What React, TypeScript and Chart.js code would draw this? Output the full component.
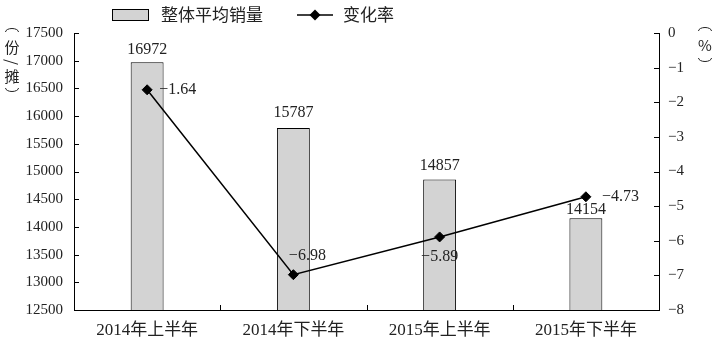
import React, { useEffect, useRef } from "react";
import { Chart, registerables } from "chart.js";

Chart.register(...registerables);

const categories = ["2014年上半年", "2014年下半年", "2015年上半年", "2015年下半年"];
const avgSales = [16972, 15787, 14857, 14154];
const changeRate = [-1.64, -6.98, -5.89, -4.73];
const leftTicks = { min: 12500, max: 17500, step: 500 };
const rightTicks = { min: -8, max: 0, step: 1 };
const seriesNames = ["整体平均销量", "变化率"];
const leftTitleChars = ["份", "/", "摊"];
const rightTitleChars = ["%"];

const SERIF = "'Liberation Serif', 'Noto Sans CJK SC', serif";
const CJK = "'Noto Sans CJK SC', sans-serif";
const TEXT = "#222";
const BAR_FILL = "#d3d3d3";

const fmtNum = (v: number) => (v < 0 ? "\u2212" + Math.abs(v) : String(v));

const decorPlugin = {
  id: "decor",
  afterDraw(chart: any) {
    const ctx = chart.ctx as CanvasRenderingContext2D;
    const area = chart.chartArea;
    const x = chart.scales.x;
    const y = chart.scales.y;
    const y1 = chart.scales.y1;
    ctx.save();
    ctx.strokeStyle = "#000";
    ctx.lineWidth = 1;
    // inward tick marks
    ctx.beginPath();
    y.ticks.forEach((_t: any, i: number) => {
      const py = Math.round(y.getPixelForTick(i)) + 0.5;
      ctx.moveTo(area.left, py);
      ctx.lineTo(area.left + 5, py);
    });
    y1.ticks.forEach((_t: any, i: number) => {
      const py = Math.round(y1.getPixelForTick(i)) + 0.5;
      ctx.moveTo(area.right, py);
      ctx.lineTo(area.right - 5, py);
    });
    for (let i = 1; i < categories.length; i++) {
      const px = Math.round((x.getPixelForValue(i - 1) + x.getPixelForValue(i)) / 2) + 0.5;
      ctx.moveTo(px, area.bottom);
      ctx.lineTo(px, area.bottom - 5);
    }
    ctx.stroke();

    // bar value labels
    ctx.fillStyle = TEXT;
    ctx.font = `16px ${SERIF}`;
    ctx.textAlign = "center";
    ctx.textBaseline = "middle";
    const barLift = [12, 15, 14, 9];
    const barMeta = chart.getDatasetMeta(0);
    barMeta.data.forEach((el: any, i: number) => {
      ctx.fillText(String(avgSales[i]), el.x, el.y - barLift[i]);
    });

    // line value labels
    const place = [
      { dx: 12, dy: 0, align: "left" },
      { dx: 14, dy: -19, align: "center" },
      { dx: 0, dy: 20, align: "center" },
      { dx: 16, dy: 0, align: "left" },
    ];
    const lineMeta = chart.getDatasetMeta(1);
    lineMeta.data.forEach((el: any, i: number) => {
      const p = place[i];
      ctx.textAlign = p.align as CanvasTextAlign;
      ctx.fillText(fmtNum(changeRate[i]), el.x + p.dx, el.y + p.dy);
    });

    // legend
    ctx.fillStyle = BAR_FILL;
    ctx.fillRect(112.5, 9.5, 36, 11);
    ctx.strokeStyle = "#000";
    ctx.strokeRect(112.5, 9.5, 36, 11);
    ctx.fillStyle = TEXT;
    ctx.font = `17px ${CJK}`;
    ctx.textAlign = "left";
    ctx.textBaseline = "middle";
    ctx.fillText(seriesNames[0], 161, 15);
    ctx.lineWidth = 1.5;
    ctx.beginPath();
    ctx.moveTo(297, 15);
    ctx.lineTo(333, 15);
    ctx.stroke();
    ctx.fillStyle = "#000";
    ctx.beginPath();
    ctx.moveTo(315, 9.5);
    ctx.lineTo(320.5, 15);
    ctx.lineTo(315, 20.5);
    ctx.lineTo(309.5, 15);
    ctx.closePath();
    ctx.fill();
    ctx.fillStyle = TEXT;
    ctx.fillText(seriesNames[1], 343, 15);

    // axis titles (vertical, with arc-shaped parentheses)
    const drawVertTitle = (cx: number, top: number, chars: string[], gaps: number[]) => {
      ctx.strokeStyle = TEXT;
      ctx.lineWidth = 1;
      ctx.beginPath();
      ctx.ellipse(cx, top + 4, 6.5, 3.5, 0, Math.PI, 2 * Math.PI);
      ctx.stroke();
      ctx.fillStyle = TEXT;
      ctx.font = `15px ${CJK}`;
      ctx.textAlign = "center";
      ctx.textBaseline = "middle";
      let cy = top + 4;
      chars.forEach((ch, i) => {
        cy += gaps[i];
        if (ch === "/") {
          ctx.save();
          ctx.translate(cx, cy);
          ctx.rotate(Math.PI / 2);
          ctx.fillText(ch, 0, 0);
          ctx.restore();
        } else {
          ctx.fillText(ch, cx, cy);
        }
      });
      cy += gaps[chars.length];
      ctx.beginPath();
      ctx.ellipse(cx, cy - 4, 6.5, 3.5, 0, 0, Math.PI);
      ctx.stroke();
    };
    drawVertTitle(12, 28, leftTitleChars, [15, 15, 14, 16]);
    drawVertTitle(705, 27, rightTitleChars, [14, 17]);
    ctx.restore();
  },
};

export default function App() {
  const ref = useRef<HTMLCanvasElement | null>(null);
  useEffect(() => {
    if (!ref.current) return;
    const chart = new Chart(ref.current, {
      type: "bar",
      data: {
        labels: categories,
        datasets: [
          {
            type: "bar",
            label: seriesNames[0],
            data: avgSales,
            yAxisID: "y",
            backgroundColor: BAR_FILL,
            borderColor: "#000",
            borderWidth: 1,
            barPercentage: 1,
            categoryPercentage: 0.225,
            order: 2,
          } as any,
          {
            type: "line",
            label: seriesNames[1],
            data: changeRate,
            yAxisID: "y1",
            borderColor: "#000",
            borderWidth: 1.5,
            pointStyle: "rectRot",
            pointRadius: 5,
            pointBackgroundColor: "#000",
            pointBorderColor: "#000",
            pointBorderWidth: 1,
            tension: 0,
            order: 1,
          } as any,
        ],
      },
      options: {
        responsive: false,
        animation: false,
        layout: { padding: { top: 33, left: 0, right: 0, bottom: 0 } },
        plugins: { legend: { display: false }, tooltip: { enabled: false } },
        scales: {
          x: {
            offset: true,
            grid: { display: false, drawTicks: false },
            border: { display: true, color: "#000", width: 1 },
            ticks: { color: TEXT, font: { size: 17, family: SERIF }, padding: 10 },
            afterFit: (s: any) => {
              s.height = 34;
            },
          },
          y: {
            position: "left",
            min: leftTicks.min,
            max: leftTicks.max,
            grid: { display: false, drawTicks: false },
            border: { display: true, color: "#000", width: 1 },
            ticks: {
              stepSize: leftTicks.step,
              color: TEXT,
              font: { size: 15, family: SERIF },
              padding: 11,
              callback: (v: any) => String(v),
            },
            afterFit: (s: any) => {
              s.width = 74;
            },
          },
          y1: {
            position: "right",
            min: rightTicks.min,
            max: rightTicks.max,
            grid: { display: false, drawTicks: false },
            border: { display: true, color: "#000", width: 1 },
            ticks: {
              stepSize: rightTicks.step,
              color: TEXT,
              font: { size: 15, family: SERIF },
              padding: 9,
              callback: (v: any) => fmtNum(Number(v)),
            },
            afterFit: (s: any) => {
              s.width = 61;
            },
          },
        },
      },
      plugins: [decorPlugin],
    });
    return () => chart.destroy();
  }, []);
  return (
    <div style={{ position: "fixed", left: 0, top: 0, width: 720, height: 344, background: "#fff" }}>
      <canvas ref={ref} width={720} height={344} style={{ display: "block" }} />
    </div>
  );
}
